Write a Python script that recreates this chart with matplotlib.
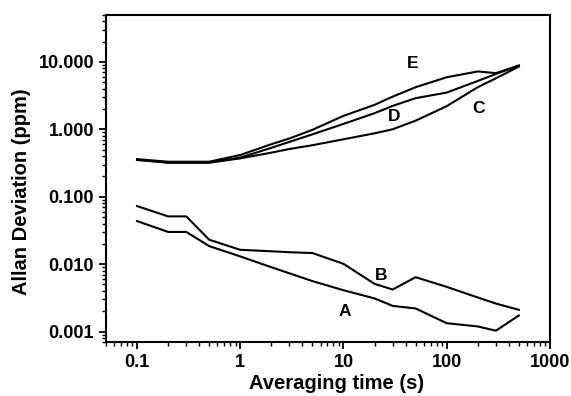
import matplotlib
matplotlib.use("Agg")
import matplotlib.pyplot as plt
from matplotlib.ticker import FixedLocator, LogLocator, NullFormatter, FuncFormatter

plt.rcParams["font.family"] = ["Liberation Sans", "DejaVu Sans"]
plt.rcParams["font.weight"] = "bold"

# averaging times (s)
tau = [0.1, 0.2, 0.3, 0.5, 1, 2, 3, 5, 10, 20, 30, 50, 100, 200, 300, 500]

# Allan deviation (ppm)
dev_a = [0.0435, 0.030, 0.030, 0.0185, 0.013, 0.0090, 0.0073, 0.0056, 0.0041,
         0.0031, 0.0024, 0.0022, 0.00133, 0.00119, 0.00103, 0.00173]
dev_b = [0.0726, 0.051, 0.051, 0.023, 0.0163, 0.0155, 0.0150, 0.0146, 0.0101,
         0.0051, 0.0042, 0.0064, 0.0046, 0.0032, 0.0026, 0.0021]
dev_c = [0.355, 0.32, 0.32, 0.32, 0.37, 0.45, 0.51, 0.58, 0.71,
         0.87, 1.0, 1.34, 2.2, 4.2, 5.7, 8.5]
dev_d = [0.35, 0.32, 0.32, 0.32, 0.38, 0.53, 0.65, 0.84, 1.2,
         1.73, 2.22, 2.89, 3.5, 5.2, 6.6, 8.8]
dev_e = [0.36, 0.33, 0.33, 0.33, 0.415, 0.6, 0.73, 0.98, 1.58,
         2.3, 3.05, 4.2, 5.9, 7.2, 6.8, 8.8]

curves = [dev_a, dev_b, dev_c, dev_d, dev_e]
labels = ["A", "B", "C", "D", "E"]
label_x = [10.2, 23, 205, 31, 47]
label_y = [0.00195, 0.0068, 2.05, 1.54, 9.3]

fig = plt.figure(figsize=(5.71, 3.96), dpi=100)
ax = fig.add_axes([0.1856, 0.1364, 0.7774, 0.8265])

for d in curves:
    ax.plot(tau, d, color="black", linewidth=1.5)

for lab, lx, ly in zip(labels, label_x, label_y):
    ax.text(lx, ly, lab, fontsize=12.5, fontweight="bold", ha="center", va="center")

ax.set_xscale("log")
ax.set_yscale("log")
ax.set_xlim(0.05, 1000)
ax.set_ylim(0.0007, 50)

ax.xaxis.set_major_locator(FixedLocator([0.1, 1, 10, 100, 1000]))
ax.xaxis.set_major_formatter(FuncFormatter(lambda v, p: "%g" % v))
ax.xaxis.set_minor_locator(LogLocator(base=10, subs=range(2, 10), numticks=20))
ax.xaxis.set_minor_formatter(NullFormatter())
ax.yaxis.set_major_locator(FixedLocator([0.001, 0.01, 0.1, 1, 10]))
ax.yaxis.set_major_formatter(FuncFormatter(lambda v, p: "%.3f" % v))
ax.yaxis.set_minor_locator(LogLocator(base=10, subs=range(2, 10), numticks=20))
ax.yaxis.set_minor_formatter(NullFormatter())

ax.tick_params(which="major", direction="out", length=5, width=1.3, labelsize=13)
ax.tick_params(which="minor", direction="out", length=3, width=1.0)
for s in ax.spines.values():
    s.set_linewidth(1.5)

ax.set_xlabel("Averaging time (s)", fontsize=14.5, fontweight="bold")
ax.set_ylabel("Allan Deviation (ppm)", fontsize=14.5, fontweight="bold")
ax.xaxis.get_label().set_va("center")
ax.yaxis.get_label().set_va("center")
ax.xaxis.set_label_coords(0.52, -0.128)
ax.yaxis.set_label_coords(-0.19, 0.46)

fig.savefig("out.png", dpi=100)
